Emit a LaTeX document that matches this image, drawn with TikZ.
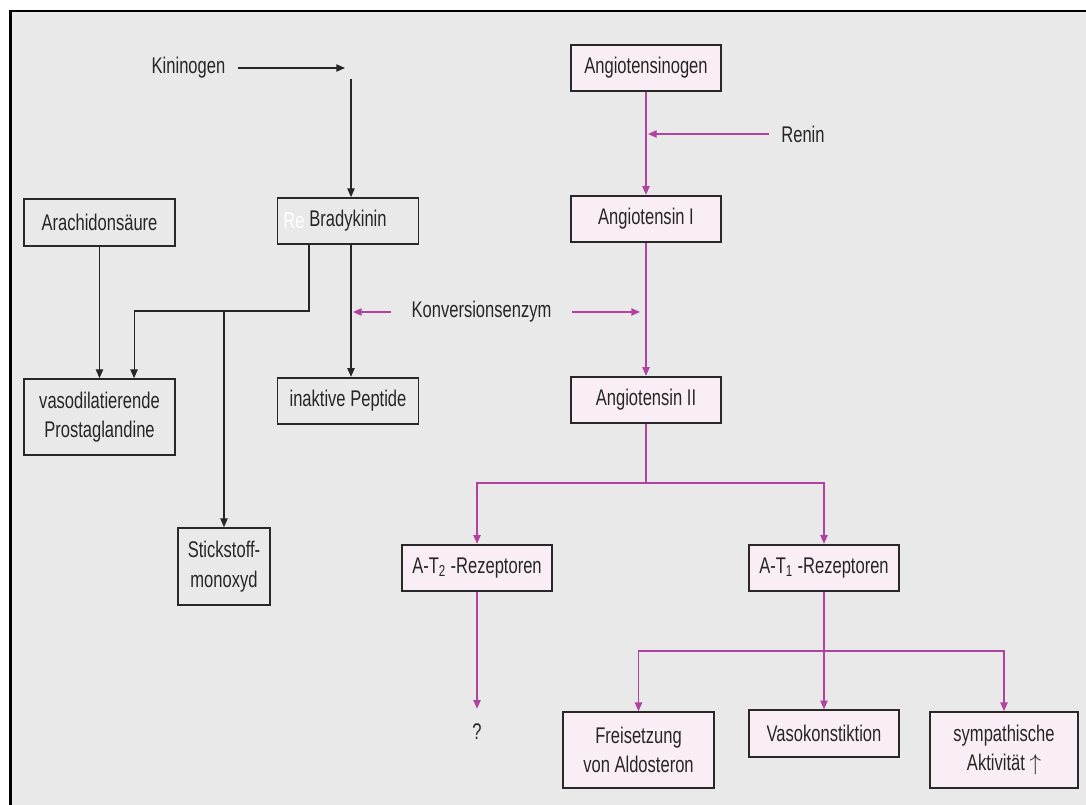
\documentclass[tikz,border=0pt]{standalone}
\usepackage{fontspec}
\setmainfont{Liberation Sans}[FakeStretch=0.73]
\usepackage{xcolor}
\usepackage{tikz}
\usetikzlibrary{arrows.meta, positioning, calc}
\definecolor{raasmagenta}{RGB}{178,66,160}
\definecolor{raaspink}{RGB}{250,238,246}
\definecolor{panelgray}{RGB}{233,233,233}
\definecolor{boxline}{RGB}{40,40,40}

\begin{document}
\begin{tikzpicture}[
    x=0.75pt, y=-0.75pt,
    every node/.style={font=\fontsize{17}{22}\selectfont, text=black!85},
    kinbox/.style={draw=boxline, line width=1.3pt, minimum width=113pt, minimum height=35pt, align=center, inner sep=2pt},
    raasbox/.style={kinbox, fill=raaspink},
    tag/.style={inner xsep=9pt},
    blackarrow/.style={draw=black!85, line width=0.8pt, -{Triangle[length=6.5pt,width=5.5pt]}},
    raasline/.style={draw=raasmagenta, line width=1pt},
    raasarrow/.style={raasline, -{Triangle[length=6.5pt,width=5.5pt]}}
]

% Background panel
\useasboundingbox (0,0) rectangle (1086,805);
\fill[white] (0,0) rectangle (1086,805);
\fill[panelgray] (10,11) rectangle (1086,805);
\draw[black, line width=2.2pt] (10.5,805) -- (10.5,11) -- (1086,11);

% Kinin side
\node[tag] (kininogen) at (188.5,68) {Kininogen};
\node[kinbox] (arachidon) at (99.5,222.5) {Arachidonsäure};
\node[kinbox, minimum width=105.75pt, minimum height=34.5pt] (bradykinin) at (348,221) {Bradykinin};
\node[text=white] (ghost) at (294,221) {Re};
\node[kinbox, minimum height=57pt] (vasodilat) at (99.5,417) {vasodilatierende\\Prostaglandine};
\node[kinbox, minimum width=105.75pt] (peptide) at (348,401) {inaktive Peptide};
\node[kinbox, minimum width=69pt, minimum height=57.75pt] (stickstoff) at (224,566.5) {Stickstoff-\\monoxyd};

\coordinate (kinend) at (345,68);
\coordinate (kintop) at (351,79);
\coordinate (nojoint) at (224,311);

\draw[blackarrow] (kininogen) -- (kinend);
\draw[blackarrow] (kintop) -- (kintop |- bradykinin.north);
\draw[blackarrow] (arachidon) -- (vasodilat);
\draw[blackarrow] ([xshift=-29.25pt]bradykinin.south) |- (nojoint) -| ([xshift=25.9pt]vasodilat.north);
\draw[blackarrow] (nojoint) -- (stickstoff);
\draw[blackarrow] (kintop |- bradykinin.south) -- (kintop |- peptide.north);

% Renin-Angiotensin side
\node[raasbox] (angiotensinogen) at (646,68) {Angiotensinogen};
\node[tag] (renin) at (803,134) {Renin};
\node[raasbox] (ang1) at (646,219) {Angiotensin I};
\node[tag, inner xsep=15pt] (konversion) at (481.5,312) {Konversionsenzym};
\node[raasbox] (ang2) at (646,400) {Angiotensin II};

\coordinate (reninend) at (648,134);
\coordinate (kvleft) at (353,312);
\coordinate (kvright) at (640,312);

\draw[raasarrow] (angiotensinogen) -- (ang1);
\draw[raasarrow] (renin) -- (reninend);
\draw[raasarrow] (konversion) -- (kvleft);
\draw[raasarrow] (konversion) -- (kvright);
\draw[raasarrow] (ang1) -- (ang2);

% Receptors and effects
\node[raasbox] (at2) at (477,568) {A-T\textsubscript{2} -Rezeptoren};
\node[raasbox] (at1) at (824,568) {A-T\textsubscript{1} -Rezeptoren};
\node (unknown) at (477,732) {?};
\node[raasbox, minimum height=57pt] (aldosteron) at (638.5,750) {Freisetzung\\von Aldosteron};
\node[raasbox] (vasokon) at (824,733.5) {Vasokonstiktion};
\node[raasbox, minimum height=57pt, minimum width=111pt] (sympathikus) at (1004,750) {sympathische\\Aktivität $\uparrow$};

\coordinate (atsplit) at (646,483);
\coordinate (effsplit) at (824,651);

\draw[raasline] (ang2) -- (atsplit);
\draw[raasarrow] (atsplit) -| (at2);
\draw[raasarrow] (atsplit) -| (at1);
\draw[raasarrow, shorten >=8pt] (at2) -- (unknown);
\draw[raasline] (at1) -- (effsplit);
\draw[raasarrow] (effsplit) -| (aldosteron);
\draw[raasarrow] (effsplit) -- (vasokon);
\draw[raasarrow] (effsplit) -| (sympathikus);

\end{tikzpicture}
\end{document}
